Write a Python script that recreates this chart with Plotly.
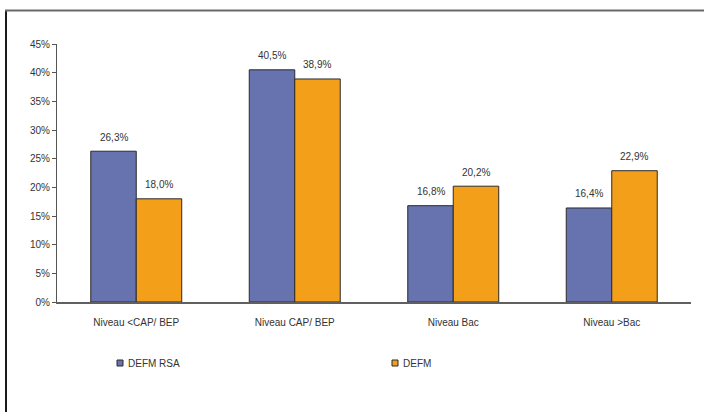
import plotly.graph_objects as go

categories = ["Niveau <CAP/ BEP", "Niveau CAP/ BEP", "Niveau Bac", "Niveau >Bac"]
defm_rsa = [26.3, 40.5, 16.8, 16.4]
defm = [18.0, 38.9, 20.2, 22.9]
series_names = ["DEFM RSA", "DEFM"]
y_ticks = [0, 5, 10, 15, 20, 25, 30, 35, 40, 45]

BLUE = "#6673ae"
ORANGE = "#f49f1a"
OUTLINE = "#2b2b2b"
TEXT = "#333333"
FONT = "Liberation Sans, Arial, sans-serif"

W, H = 704, 412
ML, MR, MT, MB = 57, 13, 44, 110
plot_w = W - ML - MR
plot_h = H - MT - MB


def pct(v):
    return f"{v:.1f}%".replace(".", ",")


fig = go.Figure()
for name, vals, col in [(series_names[0], defm_rsa, BLUE), (series_names[1], defm, ORANGE)]:
    fig.add_trace(go.Bar(
        name=name, x=categories, y=vals,
        marker=dict(color=col, line=dict(color=OUTLINE, width=1)),
        showlegend=False,
    ))

# value labels above each bar
bar_gap = 0.426
cat_px = plot_w / len(categories)
half_bar = cat_px * (1 - bar_gap) / 4
annotations = []
for vals, dx in [(defm_rsa, -half_bar), (defm, half_bar)]:
    for c, v in zip(categories, vals):
        annotations.append(dict(
            x=c, y=v, xref="x", yref="y", text=pct(v), showarrow=False,
            xshift=dx, yshift=14, font=dict(family=FONT, size=10, color=TEXT),
        ))


def px_x(p):
    return (p - ML) / plot_w


def px_y(p):
    return (H - MB - p) / plot_h


# legend drawn as small swatches with labels
shapes = []
for (x0, color, label) in [(117, BLUE, series_names[0]), (392, ORANGE, series_names[1])]:
    shapes.append(dict(type="rect", xref="paper", yref="paper",
                       x0=px_x(x0), x1=px_x(x0 + 6), y0=px_y(366), y1=px_y(360),
                       fillcolor=color, line=dict(color=OUTLINE, width=1)))
    annotations.append(dict(x=px_x(x0 + 9), y=px_y(363), xref="paper", yref="paper",
                            text=label, showarrow=False, xanchor="left", yanchor="middle",
                            font=dict(family=FONT, size=10, color=TEXT)))

# outer chart frame (left and top edges)
shapes.append(dict(type="line", xref="paper", yref="paper",
                   x0=px_x(6), x1=px_x(6), y0=px_y(10), y1=px_y(414),
                   line=dict(color="#1a1a1a", width=2)))
shapes.append(dict(type="line", xref="paper", yref="paper",
                   x0=px_x(5), x1=px_x(706), y0=px_y(10.5), y1=px_y(10.5),
                   line=dict(color="#6a6a6a", width=2)))

fig.update_layout(
    width=W, height=H,
    margin=dict(l=ML, r=MR, t=MT, b=MB),
    paper_bgcolor="white", plot_bgcolor="white",
    barmode="group", bargap=bar_gap, bargroupgap=0,
    font=dict(family=FONT, size=10, color=TEXT),
    shapes=shapes, annotations=annotations,
    xaxis=dict(showline=True, linecolor="#606060", linewidth=2, ticks="",
               showgrid=False, tickfont=dict(size=10, color=TEXT), ticklabelstandoff=10),
    yaxis=dict(range=[0, 45], tickvals=y_ticks, ticktext=[f"{v}%" for v in y_ticks],
               showline=True, linecolor="#555555", linewidth=1, ticks="outside",
               ticklen=4, tickcolor="#555555", showgrid=False, zeroline=False,
               tickfont=dict(size=10, color=TEXT)),
)

fig.write_html("out.html")
